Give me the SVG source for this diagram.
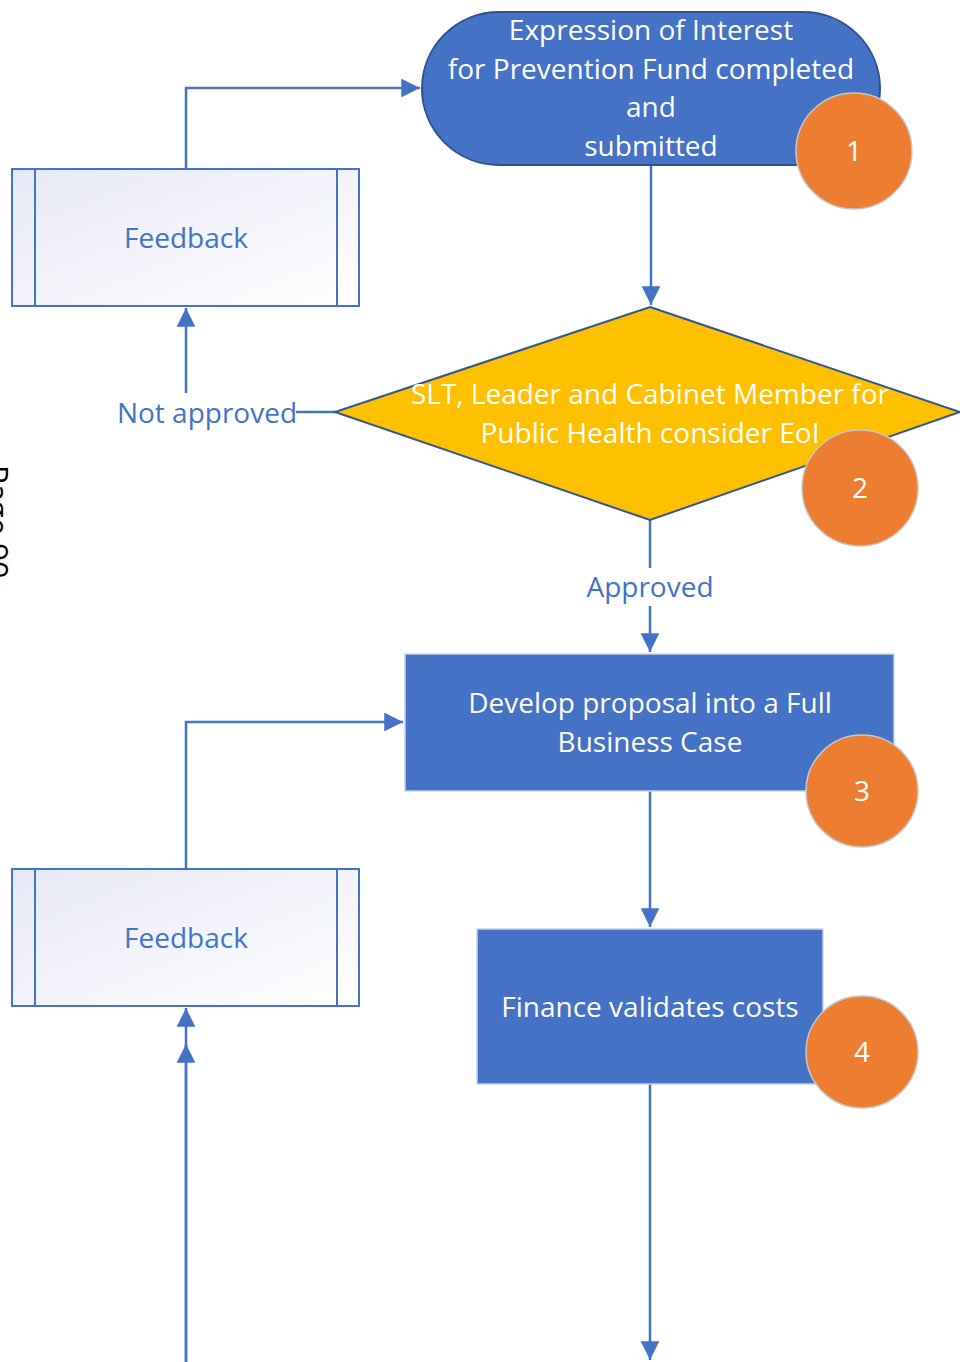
<svg xmlns="http://www.w3.org/2000/svg" width="960" height="1362" viewBox="0 0 960 1362">
  <style>
    .txt { font-family: "Open Sans", "Noto Sans", sans-serif; font-size: 28px; text-anchor: middle; dominant-baseline: central; }
    .white { fill: #ffffff; }
    .blue { fill: #4472C4; }
    .proc { fill: #4472C4; stroke: #c9d3e6; stroke-width: 1.5; }
    .term { fill: #4472C4; stroke: #2F528F; stroke-width: 2; }
    .dec { fill: #FFC000; stroke: #2F5597; stroke-width: 2; }
    .badge { fill: #ED7D31; stroke: #c8c8c8; stroke-width: 1.5; }
    .fb { fill: url(#fbGrad); stroke: #4472C4; stroke-width: 2; }
    .fbline { stroke: #4472C4; stroke-width: 2; fill: none; }
    .conn { stroke: #4472C4; stroke-width: 2.5; fill: none; }
    .arrow { marker-end: url(#arr); }
  </style>
  <defs>
    <linearGradient id="fbGrad" x1="0" y1="0" x2="1" y2="1">
      <stop offset="0" stop-color="#e6e8f6"/>
      <stop offset="1" stop-color="#ffffff"/>
    </linearGradient>
    <marker id="arr" viewBox="0 0 10 10" refX="10" refY="5" markerWidth="7.5" markerHeight="7.5" markerUnits="strokeWidth" orient="auto">
      <path d="M0,0 L10,5 L0,10 Z" fill="#4472C4"/>
    </marker>
  </defs>

  <!-- page number in the margin -->
  <text x="-14" y="465" transform="rotate(90 -14 465)" style="font-family: 'Open Sans', sans-serif; font-size: 31px; fill: #000;">Page 90</text>

  <!-- connectors -->
  <g id="connectors">
    <path class="conn arrow" d="M651,165 L651,305"/>
    <path class="conn" d="M296,412 L336,412"/>
    <path class="conn arrow" d="M186,393 L186,308"/>
    <path class="conn arrow" d="M186,169 L186,88 L420,88"/>
    <path class="conn" d="M650,520 L650,568"/>
    <path class="conn arrow" d="M650,606 L650,652"/>
    <path class="conn arrow" d="M186,869 L186,722 L403,722"/>
    <path class="conn arrow" d="M650,791 L650,927"/>
    <path class="conn arrow" d="M650,1084 L650,1360"/>
    <path class="conn arrow" d="M186,1362 L186,1008"/>
    <path class="conn arrow" d="M186,1362 L186,1044"/>
  </g>

  <!-- step 1: expression of interest -->
  <g id="node-eoi">
    <rect class="term" x="422" y="12" width="458" height="153" rx="77" ry="77"/>
    <text class="txt white" x="651" y="29">Expression of Interest</text>
    <text class="txt white" x="651" y="68">for Prevention Fund completed</text>
    <text class="txt white" x="651" y="106">and</text>
    <text class="txt white" x="651" y="145">submitted</text>
  </g>
  <g id="badge-1">
    <circle class="badge" cx="854" cy="151" r="58"/>
    <text class="txt white" x="854" y="150">1</text>
  </g>

  <!-- step 2: decision -->
  <g id="node-decision">
    <polygon class="dec" points="650,307 960,412 650,520 335,412"/>
    <text class="txt white" x="650" y="393">SLT, Leader and Cabinet Member for</text>
    <text class="txt white" x="650" y="432">Public Health consider EoI</text>
  </g>
  <g id="badge-2">
    <circle class="badge" cx="860" cy="488" r="58"/>
    <text class="txt white" x="860" y="487">2</text>
  </g>

  <g id="label-not-approved">
    <text class="txt blue" x="207" y="412">Not approved</text>
  </g>
  <g id="label-approved">
    <text class="txt blue" x="650" y="586">Approved</text>
  </g>

  <!-- feedback loop 1 -->
  <g id="node-feedback-1">
    <rect class="fb" x="12" y="169" width="347" height="137"/>
    <line class="fbline" x1="35" y1="169" x2="35" y2="306"/>
    <line class="fbline" x1="337" y1="169" x2="337" y2="306"/>
    <text class="txt blue" x="186" y="237">Feedback</text>
  </g>

  <!-- step 3: full business case -->
  <g id="node-business-case">
    <rect class="proc" x="405" y="654" width="489" height="137"/>
    <text class="txt white" x="650" y="702">Develop proposal into a Full</text>
    <text class="txt white" x="650" y="741">Business Case</text>
  </g>
  <g id="badge-3">
    <circle class="badge" cx="862" cy="791" r="56"/>
    <text class="txt white" x="862" y="790">3</text>
  </g>

  <!-- feedback loop 2 -->
  <g id="node-feedback-2">
    <rect class="fb" x="12" y="869" width="347" height="137"/>
    <line class="fbline" x1="35" y1="869" x2="35" y2="1006"/>
    <line class="fbline" x1="337" y1="869" x2="337" y2="1006"/>
    <text class="txt blue" x="186" y="937">Feedback</text>
  </g>

  <!-- step 4: finance validation -->
  <g id="node-finance">
    <rect class="proc" x="477" y="929" width="346" height="155"/>
    <text class="txt white" x="650" y="1006">Finance validates costs</text>
  </g>
  <g id="badge-4">
    <circle class="badge" cx="862" cy="1052" r="56"/>
    <text class="txt white" x="862" y="1051">4</text>
  </g>
</svg>
